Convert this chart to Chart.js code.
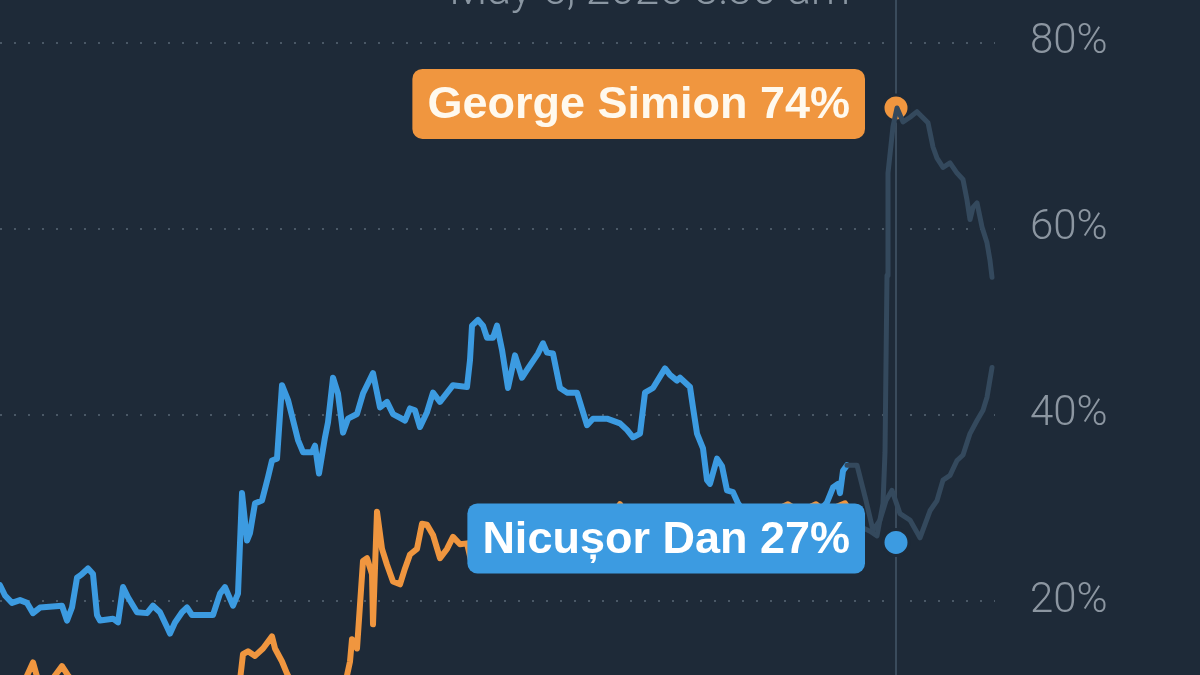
<!DOCTYPE html>
<html>
<head>
<meta charset="utf-8">
<script src="https://cdn.jsdelivr.net/npm/chart.js@4.4.0/dist/chart.umd.min.js"></script>
<style>
  body { margin: 0; background: #1e2a38; }
  #wrap { width: 1200px; height: 675px; }
</style>
</head>
<body>
<div id="wrap"><canvas id="oddsChart" width="1200" height="675"></canvas></div>
<script>
// time steps (t) and chance in % for each candidate
let danT = [0, 1, 2.4, 4, 5.4, 6.6, 8, 12.4, 13.4, 14.4, 15.4, 16.4, 17.6, 18.6, 19.4, 20, 22.6, 23.6, 24.6, 25.6,
  27.4, 29.4, 30.6, 32, 33.4, 34, 35, 36.4, 37.4, 38.4, 40, 42.6, 44, 45, 46.6, 47.6, 48.4, 49.4, 50, 51,
  52.4, 53.6, 54.4, 55.4, 56.4, 57.6, 59.6, 60.6, 62.4, 63, 63.8, 65, 65.6, 66.6, 67.6, 68.6, 69.6, 71.4, 72.6, 74.6,
  76, 77.4, 78.6, 80, 81, 82, 83, 84, 85.4, 86.6, 88, 90.6, 93.4, 94, 94.4, 95.6, 96.6, 97.4, 98.6, 99.4,
  100.4, 101.6, 103, 104.4, 105.6, 107.6, 108.6, 109.4, 110.6, 112, 113.4, 115.4, 117.4, 118.6, 121.4, 124, 125.4, 126.6, 128, 129,
  130.6, 133, 134, 135.4, 136, 138, 138.6, 139.4, 140.6, 141.4, 142, 143.4, 144.4, 145.4, 146.6, 147.6, 149.6, 152, 155, 158,
  160, 162.4, 165.4, 166.6, 167.6, 168, 168.6, 169.4];
let danV = [21.7, 20.6, 19.8, 20.1, 19.8, 18.7, 19.3, 19.5, 17.9, 19.3, 22.5, 22.9, 23.5, 22.9, 18.5, 17.9, 18.1, 17.7, 21.5, 20.4,
  18.8, 18.7, 19.5, 18.8, 17.2, 16.5, 17.7, 18.8, 19.3, 18.5, 18.5, 18.5, 20.8, 21.5, 19.5, 20.8, 31.6, 26.5, 27.3, 30.5,
  30.8, 33.3, 35.1, 35.3, 43.2, 41.6, 37.3, 36.0, 36.0, 36.7, 33.7, 37.6, 39.2, 44.0, 42.3, 38.1, 39.6, 40.1, 42.3, 44.5,
  40.8, 41.4, 40.1, 39.7, 39.4, 40.7, 40.5, 38.7, 40.3, 42.4, 41.4, 43.2, 43.0, 45.9, 49.6, 50.2, 49.6, 48.3, 48.3, 49.6,
  47.0, 42.9, 46.4, 44.0, 45.0, 46.6, 47.7, 46.7, 46.6, 42.9, 42.4, 42.4, 38.9, 39.6, 39.6, 39.1, 38.4, 37.6, 38.0, 42.4,
  42.9, 45.0, 44.3, 43.7, 44.0, 43.0, 40.8, 38.0, 36.4, 33.0, 32.6, 35.3, 34.5, 31.9, 31.7, 30.5, 29.0, 28.6, 29.2, 28.7,
  29.0, 28.8, 30.6, 32.2, 32.6, 31.6, 34.0, 34.6];

let simionT = [0, 3, 5, 6.6, 7.6, 9.6, 11, 12.4, 13.6, 16, 22, 28, 34, 40, 46, 48, 48.6, 49.6, 51, 52.6,
  54.4, 55, 56.4, 57.4, 59, 64, 68, 69.2, 70, 70.4, 71.4, 72.6, 73.4, 74.4, 74.6, 75.4, 76.4, 77.4, 78.6, 80,
  81, 82, 83.4, 84.4, 85.4, 86.6, 88, 89.4, 90.6, 92, 93.4, 94.4, 95, 97, 100, 104, 108, 112, 116, 120,
  123, 124, 125.4, 130, 136, 140, 144, 150, 154, 157.6, 160, 163.2, 165, 169, 169.6];
let simionV = [10.5, 11.0, 11.5, 13.4, 11.5, 10.8, 12.0, 13.0, 12.0, 10.5, 11.0, 10.0, 10.5, 11.0, 10.5, 11.5, 14.3, 14.6, 14.1, 14.9,
  16.2, 14.9, 13.5, 12.2, 10.5, 10.8, 10.5, 11.5, 13.5, 15.9, 14.9, 24.3, 24.6, 22.9, 17.5, 29.6, 25.6, 23.9, 22.1, 21.8,
  23.5, 25.0, 25.6, 28.3, 28.2, 27.1, 24.6, 25.6, 26.9, 26.1, 26.2, 23.9, 23.5, 25.5, 26.5, 27.0, 27.5, 28.5, 28.0, 28.5,
  29.6, 30.4, 29.0, 28.5, 28.0, 29.0, 29.5, 29.0, 29.5, 30.4, 29.6, 30.4, 29.6, 30.5, 30.0];

// faded part after the selected time
let danLaterT = [169.4, 171.4, 173.2, 174.6, 176, 177.2, 178.4, 180, 182, 184, 186, 187.4, 188.6, 190, 191.4, 192.6, 194, 195.4, 196.6, 197.4, 198.4];
let danLaterV = [34.6, 34.6, 30.8, 27.6, 28.7, 30.8, 31.9, 29.4, 28.7, 26.8, 29.7, 30.8, 33.0, 33.5, 35.1, 35.7, 38.0, 39.4, 40.5, 41.9, 45.1];
let simionLaterT = [169.6, 172, 174, 175.4, 176.6, 177, 177.4, 177.6, 178.6, 179.4, 180.6, 182, 183.4, 185.6, 186.6, 187.4, 188.6, 190,
  191.4, 192.6, 193.4, 194, 194.6, 195.4, 196.4, 197.4, 198, 198.4];
let simionLaterV = [30.0, 28.0, 27.5, 27.0, 30.5, 36.0, 55.0, 66.0, 71.0, 73.0, 71.5, 72.0, 72.6, 71.4, 68.8, 67.6, 66.6, 67.1,
  66.0, 65.3, 63.1, 61.0, 62.3, 62.8, 60.2, 58.5, 56.6, 54.8];

let hoverT = 179.2;
let hoverV = [73.0, 26.3];
let names = ["George Simion", "Nicușor Dan"];
let pcts = [74, 27];
let hoverTime = "May 5, 2025 3:30 am";
let yTicks = [20, 40, 60, 80];

let bg = "#1e2a38";
let orange = "#f0963f";
let blue = "#3c9be1";
let faded = "#34495d";

function pts(ts, vs) {
  return ts.map((t, i) => ({ x: t, y: vs[i] }));
}

let crosshair = {
  id: "crosshair",
  beforeDatasetsDraw(chart) {
    let ctx = chart.ctx;
    let x = chart.scales.x.getPixelForValue(hoverT);
    let area = chart.chartArea;
    ctx.save();
    ctx.fillStyle = bg;
    ctx.fillRect(x - 12, area.top, 24, area.bottom - area.top);
    ctx.strokeStyle = "#3a4b5c";
    ctx.lineWidth = 2;
    ctx.beginPath();
    ctx.moveTo(x, 0);
    ctx.lineTo(x, chart.height);
    ctx.stroke();
    ctx.restore();
  },
  afterDraw(chart) {
    let ctx = chart.ctx;
    let x = chart.scales.x.getPixelForValue(hoverT);
    ctx.save();
    ctx.font = "300 44px Roboto, 'Liberation Sans', sans-serif";
    ctx.fillStyle = "#8a96a2";
    ctx.textAlign = "right";
    ctx.textBaseline = "alphabetic";
    ctx.fillText(hoverTime, x - 46, 4);
    ctx.restore();
  },
};

let labelBoxes = {
  id: "labelBoxes",
  afterDatasetsDraw(chart) {
    let ctx = chart.ctx;
    let dots = chart.getDatasetMeta(4).data;
    let colors = [orange, blue];
    ctx.save();
    ctx.font = "bold 45px 'Liberation Sans', Arial, sans-serif";
    dots.forEach((p, i) => {
      let text = `${names[i]} ${pcts[i]}%`;
      let w = ctx.measureText(text).width + 30;
      let h = 70;
      let right = p.x - 31;
      let top = p.y - 4 - h / 2;
      ctx.fillStyle = colors[i];
      ctx.beginPath();
      ctx.roundRect(right - w, top, w, h, 10);
      ctx.fill();
      ctx.fillStyle = i == 0 ? "#fff9ee" : "#ffffff";
      ctx.textAlign = "right";
      ctx.textBaseline = "middle";
      ctx.fillText(text, right - 15, top + h / 2 + 2);
    });
    ctx.restore();
  },
};

let chart = new Chart(document.querySelector("#oddsChart"), {
  type: "line",
  data: {
    datasets: [
      { data: pts(simionLaterT, simionLaterV), borderColor: faded, borderWidth: 5 },
      { data: pts(danLaterT, danLaterV), borderColor: faded, borderWidth: 5 },
      { data: pts(simionT, simionV), borderColor: orange, borderWidth: 6 },
      { data: pts(danT, danV), borderColor: blue, borderWidth: 6 },
      {
        data: [{ x: hoverT, y: hoverV[0] }, { x: hoverT, y: hoverV[1] }],
        showLine: false,
        pointRadius: 13,
        pointBackgroundColor: [orange, blue],
        pointBorderColor: bg,
        pointBorderWidth: 3,
      },
    ],
  },
  options: {
    responsive: false,
    animation: false,
    devicePixelRatio: 1,
    layout: { padding: 0, autoPadding: false },
    elements: {
      line: { tension: 0, borderJoinStyle: "round", borderCapStyle: "round" },
      point: { radius: 0, hoverRadius: 0 },
    },
    plugins: { legend: { display: false }, tooltip: { enabled: false } },
    scales: {
      x: { type: "linear", min: 0, max: 199, display: false },
      y: {
        position: "right",
        min: 12.05,
        max: 84.6,
        afterBuildTicks: (s) => {
          s.ticks = yTicks.map((v) => ({ value: v }));
        },
        afterFit: (s) => {
          s.width = 205;
          s.paddingTop = 0;
          s.paddingBottom = 0;
        },
        grid: { color: "#4a5866", lineWidth: 2, drawTicks: false },
        border: { display: false, dash: [2, 12] },
        ticks: {
          color: "#8c96a1",
          padding: 35,
          font: { family: "Roboto", weight: 300, size: 42 },
          callback: (v) => v + "%",
        },
      },
    },
  },
  plugins: [crosshair, labelBoxes],
});
</script>
</body>
</html>
